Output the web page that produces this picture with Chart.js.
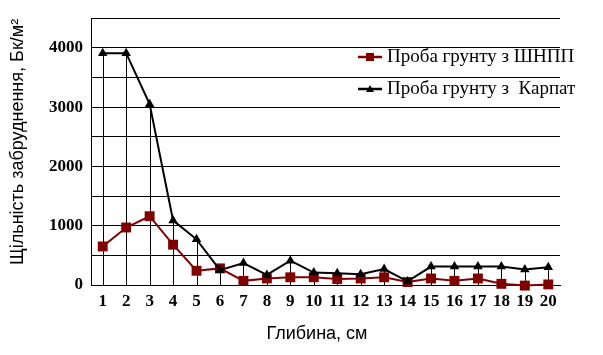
<!DOCTYPE html>
<html>
<head>
<meta charset="utf-8">
<script src="https://cdn.jsdelivr.net/npm/chart.js@4/dist/chart.umd.min.js"></script>
<style>
html,body{margin:0;padding:0;background:#fff;}
canvas{display:block;}
</style>
</head>
<body>
<canvas id="c" width="603" height="355"></canvas>
<script>
const categories = ['1','2','3','4','5','6','7','8','9','10','11','12','13','14','15','16','17','18','19','20'];
const shnppValues = [650, 970, 1160, 680, 240, 280, 70, 110, 130, 130, 100, 110, 130, 50, 110, 70, 110, 20, -10, 10];
const karpatValues = [3910, 3910, 3050, 1090, 770, 250, 370, 170, 410, 210, 200, 180, 270, 60, 310, 310, 310, 310, 260, 300];
const seriesNames = ['Проба грунту з ШНПП', 'Проба грунту з  Карпат'];
const yTitle = 'Щільність забруднення, Бк/м²';
const xTitle = 'Глибина, см';

const RED = '#800000';
const BLACK = '#000000';

const dropLines = {
  id: 'dropLines',
  beforeDatasetsDraw(chart) {
    const ctx = chart.ctx;
    const meta = chart.getDatasetMeta(1);
    const bottom = chart.scales.y.getPixelForValue(0);
    ctx.save();
    ctx.strokeStyle = '#000';
    ctx.lineWidth = 1;
    meta.data.forEach(p => {
      const x = Math.round(p.x) + 0.5;
      ctx.beginPath();
      ctx.moveTo(x, p.y);
      ctx.lineTo(x, bottom);
      ctx.stroke();
    });
    ctx.restore();
  }
};

const axisTitles = {
  id: 'axisTitles',
  afterDraw(chart) {
    const ctx = chart.ctx;
    ctx.save();
    ctx.fillStyle = '#000';
    ctx.font = '18px "Liberation Sans", Arial, sans-serif';
    ctx.textAlign = 'center';
    ctx.textBaseline = 'middle';
    ctx.fillText(xTitle, 317, 334);
    ctx.translate(18, 142);
    ctx.rotate(-Math.PI / 2);
    ctx.fillText(yTitle, 0, 0);
    ctx.restore();
  }
};

const innerLegend = {
  id: 'innerLegend',
  afterDraw(chart) {
    const ctx = chart.ctx;
    ctx.save();
    const items = [
      {y: 57, color: RED, marker: 'rect'},
      {y: 89, color: BLACK, marker: 'tri'}
    ];
    items.forEach((it, i) => {
      ctx.strokeStyle = it.color;
      ctx.fillStyle = it.color;
      ctx.lineWidth = 2.5;
      ctx.beginPath();
      ctx.moveTo(358, it.y);
      ctx.lineTo(382, it.y);
      ctx.stroke();
      const cx = 370;
      ctx.beginPath();
      if (it.marker === 'rect') {
        ctx.rect(cx - 4, it.y - 4, 8, 8);
      } else {
        ctx.moveTo(cx, it.y - 4);
        ctx.lineTo(cx + 4, it.y + 3);
        ctx.lineTo(cx - 4, it.y + 3);
        ctx.closePath();
      }
      ctx.fill();
      ctx.fillStyle = '#000';
      ctx.font = '19px "Liberation Serif", "Times New Roman", serif';
      ctx.textBaseline = 'middle';
      ctx.textAlign = 'left';
      ctx.fillText(chart.data.datasets[i].label, 387, it.y);
    });
    ctx.restore();
  }
};

new Chart(document.getElementById('c'), {
  type: 'line',
  data: {
    labels: categories,
    datasets: [
      {
        label: seriesNames[0],
        data: shnppValues,
        borderColor: RED,
        backgroundColor: RED,
        borderWidth: 2,
        pointStyle: 'rect',
        pointRadius: 7,
        pointBorderWidth: 0,
        pointHoverRadius: 7,
        tension: 0,
        clip: false,
        order: 2
      },
      {
        label: seriesNames[1],
        data: karpatValues,
        borderColor: BLACK,
        backgroundColor: BLACK,
        borderWidth: 2,
        pointStyle: 'triangle',
        pointRadius: 5.5,
        pointBorderWidth: 0,
        pointHoverRadius: 5.5,
        tension: 0,
        clip: false,
        order: 1
      }
    ]
  },
  options: {
    responsive: false,
    animation: false,
    events: [],
    layout: { padding: { top: 13, right: 43, bottom: 0, left: 0 } },
    plugins: {
      legend: { display: false },
      tooltip: { enabled: false }
    },
    scales: {
      x: {
        type: 'category',
        offset: true,
        grid: { display: false, drawTicks: false },
        border: { display: true, color: '#000', width: 1 },
        ticks: {
          color: '#000',
          padding: 6,
          maxRotation: 0,
          autoSkip: false,
          font: { family: '"Liberation Serif", "Times New Roman", serif', size: 17, weight: 'bold' }
        },
        title: { display: false },
        afterFit(s) { s.height = 70; }
      },
      y: {
        min: 0,
        max: 4500,
        ticks: {
          stepSize: 500,
          color: '#000',
          padding: 8,
          callback: v => (v % 1000 === 0 ? String(v) : ''),
          font: { family: '"Liberation Serif", "Times New Roman", serif', size: 17, weight: 'bold' }
        },
        grid: { color: '#000', lineWidth: 1, drawTicks: false },
        border: { display: true, color: '#000', width: 1 },
        title: { display: false },
        afterFit(s) { s.width = 91; }
      }
    }
  },
  plugins: [dropLines, axisTitles, innerLegend]
});
</script>
</body>
</html>
